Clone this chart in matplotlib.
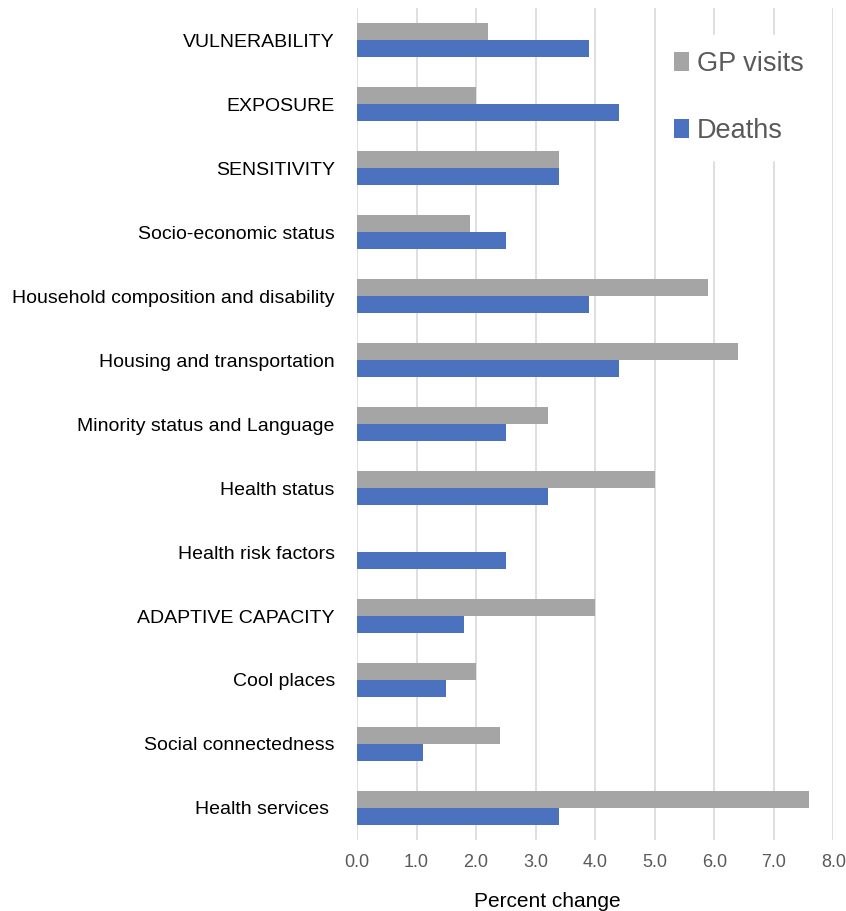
import matplotlib.pyplot as plt
import numpy as np

plt.rcParams['font.family'] = ['Liberation Sans', 'DejaVu Sans']

categories = ['VULNERABILITY', 'EXPOSURE', 'SENSITIVITY', 'Socio-economic status',
              'Household composition and disability', 'Housing and transportation',
              'Minority status and Language', 'Health status', 'Health risk factors',
              'ADAPTIVE CAPACITY', 'Cool places', 'Social connectedness',
              'Health services ']
gp_visits = [2.2, 2.0, 3.4, 1.9, 5.9, 6.4, 3.2, 5.0, 0.0, 4.0, 2.0, 2.4, 7.6]
deaths = [3.9, 4.4, 3.4, 2.5, 3.9, 4.4, 2.5, 3.2, 2.5, 1.8, 1.5, 1.1, 3.4]
xticks = [0, 1, 2, 3, 4, 5, 6, 7, 8]

fig = plt.figure(figsize=(8.46, 9.11), dpi=100)
ax = fig.add_axes([0.422, 0.078, 0.563, 0.913])

y = np.arange(len(categories))
h = 0.265
ax.barh(y - h / 2, gp_visits, height=h, color='#a5a5a5', label='GP visits', zorder=3)
ax.barh(y + h / 2, deaths, height=h, color='#4a72bf', label='Deaths', zorder=3)

ax.set_ylim(len(categories) - 0.5, -0.5)
ax.set_xlim(0, 8)
ax.set_yticks(y)
ax.set_yticklabels(categories, fontsize=14, color='black')
ax.set_xticks(xticks)
ax.set_xticklabels(['%.1f' % v for v in xticks], fontsize=13, color='#595959')
ax.tick_params(axis='y', length=0, pad=16)
ax.tick_params(axis='x', length=0, pad=10)
ax.grid(axis='x', color='#d9d9d9', linewidth=1.2, zorder=0)
for s in ax.spines.values():
    s.set_visible(False)

ax.set_xlabel('Percent change', fontsize=15)
ax.xaxis.set_label_coords(0.40, -0.062)

leg = ax.legend(loc='upper right', bbox_to_anchor=(1.0, 0.984), fontsize=19.5,
                frameon=True, framealpha=1, edgecolor='white', handlelength=0.55,
                handleheight=0.7, handletextpad=0.3, labelspacing=1.5,
                borderpad=0.6)
for t in leg.get_texts():
    t.set_color('#595959')
leg.set_zorder(5)

fig.savefig('out.png', dpi=100)
